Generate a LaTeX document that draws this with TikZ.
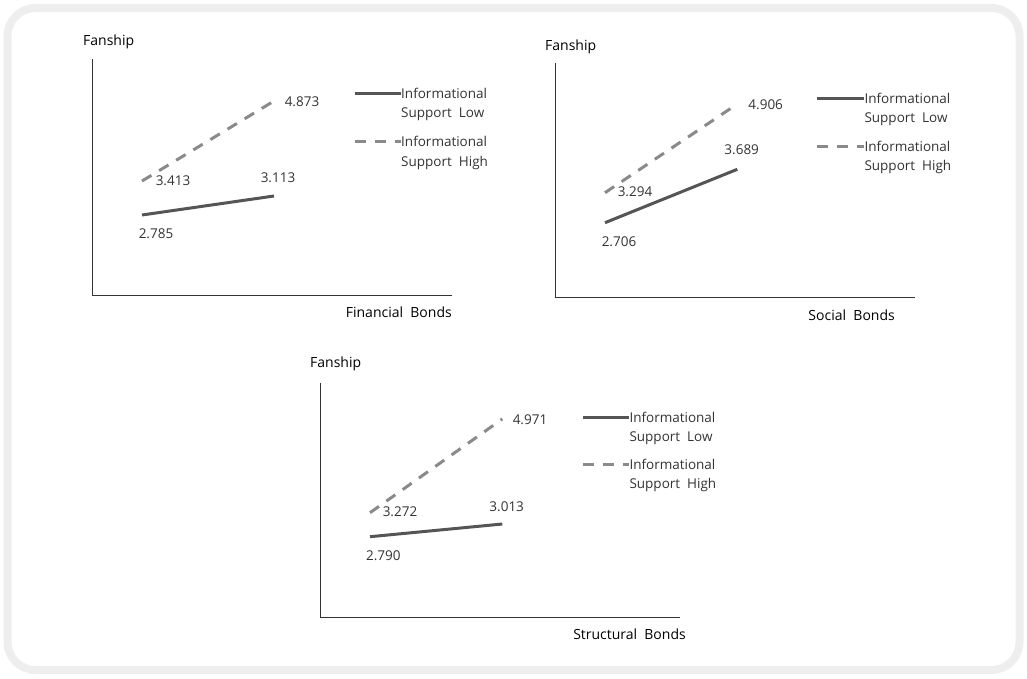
\documentclass[tikz,border=0pt]{standalone}
\usepackage{fontspec}
\setmainfont{Open Sans}
\usetikzlibrary{positioning}
\definecolor{lowgray}{HTML}{555555}
\definecolor{highgray}{HTML}{8A8A8A}
\definecolor{framegray}{HTML}{EEEEEE}
\definecolor{txtgray}{HTML}{333333}
\tikzstyle{axis} = [line width=1pt, draw=txtgray]
\tikzstyle{low} = [line width=3pt, draw=lowgray]
\tikzstyle{high} = [line width=3pt, draw=highgray, dash pattern=on 11pt off 9pt]
\tikzstyle{val} = [inner sep=0pt, text=txtgray, font=\fontsize{13.5}{16}\selectfont]
\tikzstyle{title} = [inner sep=0pt, text=black, font=\fontsize{14}{16}\selectfont]
\tikzstyle{legend} = [inner sep=0pt, align=left, text=txtgray, font=\fontsize{13.5}{19.4}\selectfont]

\begin{document}
\begin{tikzpicture}[x=1pt, y=-1pt]
			\useasboundingbox (0,0) rectangle (1027,678);
			\draw [framegray, line width=8pt, rounded corners=28pt] (7.5,8) rectangle (1019.5,670);

			% Financial Bonds
			\coordinate (F_top) at (92,59);
			\coordinate (F_o) at (92,295);
			\coordinate (F_end) at (452,295);
			\node (F_y) [title, anchor=base west] at (83,45) {Fanship};
			\node (F_x) [title, anchor=base east] at (452,317) {Financial~ Bonds};
			\coordinate (F_low1) at (142,215);
			\coordinate (F_low2) at (274,196);
			\coordinate (F_high1) at (142,181);
			\coordinate (F_high2) at (274,101);
			\node (F_vl1) [val] at (156,234) {2.785};
			\node (F_vl2) [val] at (278,178) {3.113};
			\node (F_vh1) [val] at (173,181) {3.413};
			\node (F_vh2) [val] at (302,102) {4.873};
			\coordinate (F_kl) at (355,93.3);
			\coordinate (F_kh) at (355,141.7);
			\node (F_kLow) [legend, anchor=base west] at (401,117.7) {Informational\\Support~ Low};
			\node (F_kHigh) [legend, anchor=base west] at (401,166.1) {Informational\\Support~ High};

			% Social Bonds
			\coordinate (S_top) at (555,63);
			\coordinate (S_o) at (555,297.7);
			\coordinate (S_end) at (915,297.7);
			\node (S_y) [title, anchor=base west] at (545,50) {Fanship};
			\node (S_x) [title, anchor=base east] at (895,320.5) {Social~ Bonds};
			\coordinate (S_low1) at (605,222.7);
			\coordinate (S_low2) at (737.3,169.3);
			\coordinate (S_high1) at (605,192.7);
			\coordinate (S_high2) at (737.3,104);
			\node (S_vl1) [val] at (619,241.7) {2.706};
			\node (S_vl2) [val] at (741.7,150) {3.689};
			\node (S_vh1) [val] at (635,191.7) {3.294};
			\node (S_vh2) [val] at (765.7,105) {4.906};
			\coordinate (S_kl) at (817,98.3);
			\coordinate (S_kh) at (817,146);
			\node (S_kLow) [legend, anchor=base west] at (864.3,122.7) {Informational\\Support~ Low};
			\node (S_kHigh) [legend, anchor=base west] at (864.3,170.4) {Informational\\Support~ High};

			% Structural Bonds
			\coordinate (T_top) at (320,382.7);
			\coordinate (T_o) at (320,617.3);
			\coordinate (T_end) at (680,617.3);
			\node (T_y) [title, anchor=base west] at (310,367.5) {Fanship};
			\node (T_x) [title, anchor=base east] at (686,639) {Structural~ Bonds};
			\coordinate (T_low1) at (370,536.7);
			\coordinate (T_low2) at (502.3,524);
			\coordinate (T_high1) at (370,512.7);
			\coordinate (T_high2) at (502.3,419);
			\node (T_vl1) [val] at (383.3,556) {2.790};
			\node (T_vl2) [val] at (506.7,506.7) {3.013};
			\node (T_vh1) [val] at (400,511.7) {3.272};
			\node (T_vh2) [val] at (530,420) {4.971};
			\coordinate (T_kl) at (582.7,417);
			\coordinate (T_kh) at (582.7,464.3);
			\node (T_kLow) [legend, anchor=base west] at (629.3,441.4) {Informational\\Support~ Low};
			\node (T_kHigh) [legend, anchor=base west] at (629.3,488.7) {Informational\\Support~ High};

			% Axes
			\draw [axis] (F_top) -- (F_o) -- (F_end);
			\draw [axis] (S_top) -- (S_o) -- (S_end);
			\draw [axis] (T_top) -- (T_o) -- (T_end);

			% Lines
			\draw [low] (F_low1) -- (F_low2);
			\draw [high] (F_high1) -- (F_high2);
			\draw [low] (S_low1) -- (S_low2);
			\draw [high] (S_high1) -- (S_high2);
			\draw [low] (T_low1) -- (T_low2);
			\draw [high] (T_high1) -- (T_high2);

			% Legend keys
			\draw [low] (F_kl) -- (F_kl -| F_kLow.west);
			\draw [high] (F_kh) -- (F_kh -| F_kHigh.west);
			\draw [low] (S_kl) -- (S_kl -| S_kLow.west);
			\draw [high] (S_kh) -- (S_kh -| S_kHigh.west);
			\draw [low] (T_kl) -- (T_kl -| T_kLow.west);
			\draw [high] (T_kh) -- (T_kh -| T_kHigh.west);

		\end{tikzpicture}
\end{document}
